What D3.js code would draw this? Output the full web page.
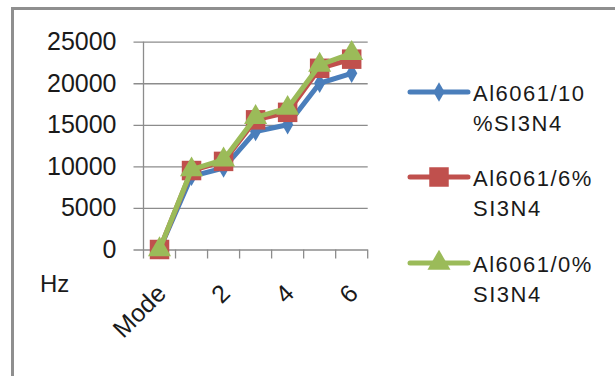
<!DOCTYPE html>
<html>
<head>
<meta charset="utf-8">
<script src="https://cdn.jsdelivr.net/npm/d3@7"></script>
<style>
  html, body { margin: 0; padding: 0; background: #fff; }
  svg { display: block; }
  text { font-family: "Liberation Sans", Arial, sans-serif; fill: #1a1a1a; }
</style>
</head>
<body>
<svg id="chart" width="615" height="376"></svg>
<script>
const categories = ["Mode", "1", "2", "3", "4", "5", "6"];
const shownLabels = ["Mode", "2", "4", "6"];
const yTicks = [0, 5000, 10000, 15000, 20000, 25000];
const seriesNames = [["Al6061/10", "%SI3N4"], ["Al6061/6%", "SI3N4"], ["Al6061/0%", "SI3N4"]];
const al10 = [0, 8800, 9800, 14200, 15000, 20000, 21200];
const al6  = [0, 9500, 10600, 15600, 16500, 21800, 22900];
const al0  = [0, 9600, 10800, 15900, 17000, 22200, 23600];
const colors = ["#4A7EBB", "#C0504D", "#9BBB59"];
const markers = ["diamond", "square", "triangle"];
const allSeries = [al10, al6, al0];

const svg = d3.select("#chart");

// outer frame (top and left edges visible)
svg.append("path")
  .attr("d", "M12.5,376 L12.5,8.5 L615,8.5")
  .attr("fill", "none").attr("stroke", "#8f8f8f").attr("stroke-width", 3);

const pLeft = 143.5, pRight = 367.7, pTop = 41.7, pBottom = 249.5;
const x = d3.scaleBand().domain(categories).range([pLeft, pRight]).paddingInner(0).paddingOuter(0);
const y = d3.scaleLinear().domain([0, 25000]).range([pBottom, pTop]);

// gridlines + y ticks
const yAxis = d3.axisLeft(y).tickValues(yTicks).tickSize(pRight - pLeft + 10).tickPadding(17).tickFormat(d3.format("d"));
const gy = svg.append("g").attr("transform", `translate(${pRight},0)`).call(yAxis);
gy.select(".domain").remove();
gy.selectAll(".tick line").attr("stroke", "#8c8c8c").attr("stroke-width", 1.3);
gy.selectAll(".tick text").attr("font-size", 25).attr("fill", "#1a1a1a")
  .attr("font-family", "'Liberation Sans', Arial, sans-serif");

// y axis line
svg.append("line").attr("x1", pLeft).attr("x2", pLeft).attr("y1", pTop).attr("y2", pBottom + 9)
  .attr("stroke", "#8c8c8c").attr("stroke-width", 1.3);

// x axis ticks at category boundaries
const boundaries = categories.map(c => x(c)).concat([x(categories[categories.length - 1]) + x.bandwidth()]);
svg.append("g").selectAll("line").data(boundaries.slice(1)).join("line")
  .attr("x1", d => d).attr("x2", d => d).attr("y1", pBottom).attr("y2", pBottom + 9)
  .attr("stroke", "#8c8c8c").attr("stroke-width", 1.3);

// x labels
svg.append("g").selectAll("text").data(shownLabels).join("text")
  .attr("transform", d => `translate(${x(d) + x.bandwidth() / 2 + 8},295) rotate(-45)`)
  .attr("text-anchor", "end").attr("font-size", 25)
  .text(d => d);

// Hz label
svg.append("text").attr("x", 40).attr("y", 292).attr("font-size", 24).text("Hz");

const sym = {
  diamond: d3.symbol().type(d3.symbolDiamond).size(110),
  square: d3.symbol().type(d3.symbolSquare).size(380),
  triangle: d3.symbol().type(d3.symbolTriangle).size(230)
};

const line = d3.line().x((d, i) => x(categories[i]) + x.bandwidth() / 2).y(d => y(d));

allSeries.forEach((vals, si) => {
  const g = svg.append("g");
  g.append("path").datum(vals).attr("d", line).attr("fill", "none")
    .attr("stroke", colors[si]).attr("stroke-width", 5).attr("stroke-linejoin", "round");
  g.selectAll("path.m").data(vals).join("path").attr("class", "m")
    .attr("d", sym[markers[si]])
    .attr("transform", (d, i) => `translate(${x(categories[i]) + x.bandwidth() / 2},${y(d)})`)
    .attr("fill", colors[si]);
});

// legend
const legendY = [92, 177, 263];
const legend = svg.append("g");
seriesNames.forEach((names, si) => {
  const ly = legendY[si];
  legend.append("line").attr("x1", 410).attr("x2", 468).attr("y1", ly).attr("y2", ly)
    .attr("stroke", colors[si]).attr("stroke-width", 5).attr("stroke-linecap", "round");
  legend.append("path").attr("d", sym[markers[si]]).attr("transform", `translate(439,${ly})`).attr("fill", colors[si]);
  names.forEach((t, k) => {
    legend.append("text").attr("x", 473).attr("y", ly + 9 + k * 30)
      .attr("font-size", 22).attr("letter-spacing", 1.5).text(t);
  });
});
</script>
</body>
</html>
